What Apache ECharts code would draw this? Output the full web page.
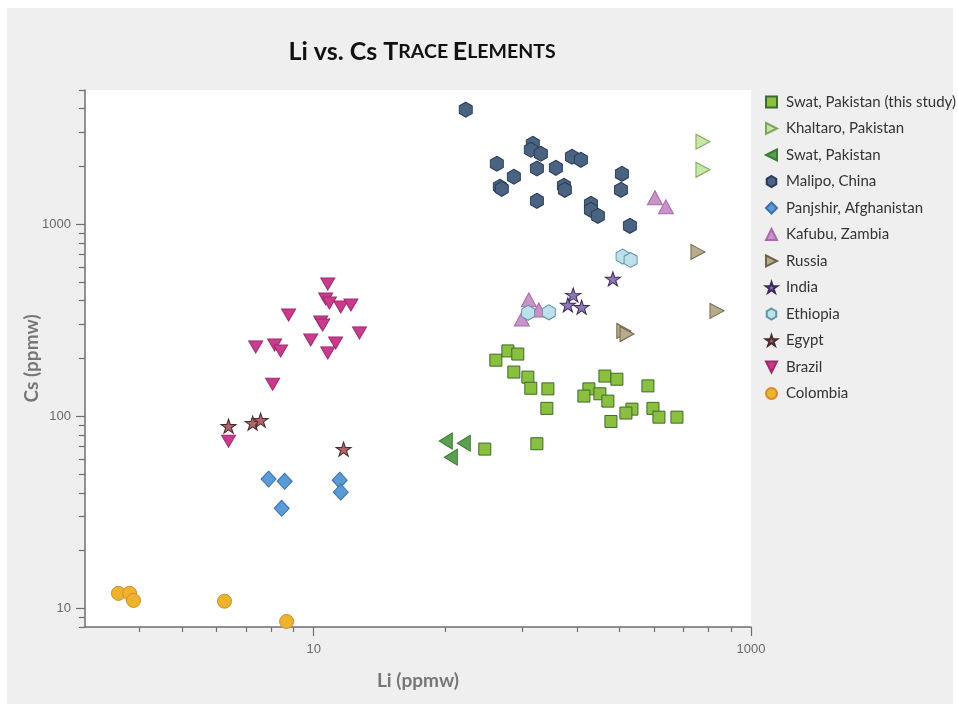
<!DOCTYPE html>
<html>
<head>
<meta charset="utf-8">
<script src="https://cdn.jsdelivr.net/npm/echarts@6/dist/echarts.min.js"></script>
<style>
  html, body { margin: 0; padding: 0; background: #ffffff; }
  #frame { position: absolute; left: 7px; top: 8px; width: 946px; height: 696px; background: #efefef; }
  #chart { position: absolute; left: 0; top: 0; width: 958px; height: 710px; }
</style>
</head>
<body>
<div id="frame"></div>
<div id="chart"></div>
<script>
// Li vs. Cs concentrations (ppmw) in emeralds, grouped by locality
const swatStudyLi = [68.1, 77.3, 85.8, 82.3, 95.4, 98.4, 117.8, 116.5, 104.9, 60.6, 181.4, 172.1, 203.7, 221.6, 214.7, 243.6, 337.8, 285.4, 267.9, 228.8, 356.1, 379.3, 458.5];
const swatStudyCs = [196, 219, 211, 170, 160, 140, 139, 110, 72, 67.5, 139, 127.5, 131, 120, 162, 156, 144, 109, 104, 94, 110, 99, 99];

const khaltaroLi = [603, 603];
const khaltaroCs = [2690, 1920];

const swatLi = [40.2, 48.6, 42.4];
const swatCs = [74.3, 72.5, 61.3];

const malipoLi = [49.6, 100.5, 98.4, 109.4, 151.7, 166.7, 68.8, 104.9, 128.1, 82.3, 256.8, 71.0, 72.5, 139.4, 140.8, 254.1, 104.9, 185.3, 185.3, 199.4, 279.3];
const malipoCs = [3950, 2625, 2443, 2328, 2246, 2166, 2065, 1951, 1968, 1767, 1831, 1567, 1530, 1586, 1511, 1511, 1324, 1277, 1189, 1106, 981];

const panjshirLi = [6.22, 7.37, 7.14, 13.15, 13.3];
const panjshirCs = [47.1, 45.9, 33.2, 46.5, 40.3];

const kafubuLi = [363.7, 408.3, 96.4, 107.1, 89.5];
const kafubuCs = [1373, 1232, 404, 358, 321];

const russiaLi = [572, 699, 262, 271];
const russiaCs = [718, 354, 278, 268];

const indiaLi = [233.6, 153.8, 145.4, 168];
const indiaCs = [519, 428, 380, 370];

const ethiopiaLi = [258.7, 281.5, 95.7, 119];
const ethiopiaCs = [679, 652, 346, 348];

const egyptLi = [4.08, 5.26, 5.72, 13.7];
const egyptCs = [88.9, 92.1, 95.5, 67.5];

const brazilLi = [11.6, 11.35, 11.8, 13.3, 14.8, 7.68, 10.77, 11.0, 16.2, 5.43, 6.63, 7.06, 9.69, 12.6, 11.6, 6.49, 4.08];
const brazilCs = [489, 408, 389, 371, 380, 337, 310, 299, 272, 230, 235, 219, 250, 241, 214, 147, 74.3];

const colombiaLi = [1.28, 1.44, 1.50, 3.91, 7.52];
const colombiaCs = [11.97, 11.97, 11.0, 10.9, 8.55];

// Axis tick values
const xLabelTicks = [10, 1000];
const xMinorTicks = [1.6, 2.5, 3.6, 4.9, 6.4, 8.1, 40, 90, 160, 250, 360, 490, 640, 810];
const yLabelTicks = [10, 100, 1000];
const yMinorTicks = [8, 9, 20, 30, 40, 50, 60, 70, 80, 90, 200, 300, 400, 500, 600, 700, 800, 900, 2000, 3000, 4000, 5000];

// Marker outlines
const HEXAGON = 'path://M0,-1L0.866,-0.5L0.866,0.5L0,1L-0.866,0.5L-0.866,-0.5Z';
const STAR = 'path://M0,-1L0.2245,-0.309L0.951,-0.309L0.3633,0.118L0.588,0.809L0,0.382L-0.588,0.809L-0.3633,0.118L-0.951,-0.309L-0.2245,-0.309Z';
const TRI_RIGHT = 'path://M0,0L1,0.5L0,1Z';
const TRI_LEFT = 'path://M1,0L0,0.5L1,1Z';
const TRI_DOWN = 'path://M0,0L1,0L0.5,1Z';

function pairs(xs, ys) {
  return xs.map((x, i) => [x, ys[i]]);
}

function scatter(name, xs, ys, symbol, size, fill, stroke) {
  return {
    name: name,
    type: 'scatter',
    xAxisIndex: 0,
    yAxisIndex: 0,
    data: pairs(xs, ys),
    symbol: symbol,
    symbolSize: size,
    itemStyle: { color: fill, borderColor: stroke, borderWidth: 1, opacity: 1 },
    emphasis: { disabled: true }
  };
}

const axisGray = '#6f6f6f';
const chart = echarts.init(document.getElementById('chart'), null, { renderer: 'canvas' });

chart.setOption({
  backgroundColor: 'transparent',
  animation: false,
  title: {
    text: '{a|Li vs. Cs }{a|T}{b|RACE }{a|E}{b|LEMENTS}',
    left: 417,
    top: 34,
    textAlign: 'center',
    textStyle: {
      rich: {
        a: { fontFamily: 'Lato', fontWeight: 'bold', fontSize: 25, color: '#111111' },
        b: { fontFamily: 'Lato', fontWeight: 'bold', fontSize: 19.5, color: '#111111' }
      }
    }
  },
  grid: {
    left: 85, top: 90, width: 666, height: 537,
    show: true, backgroundColor: '#ffffff', borderWidth: 0
  },
  legend: {
    orient: 'vertical',
    left: 765,
    top: 94,
    padding: 0,
    itemWidth: 11,
    itemHeight: 11,
    itemGap: 10.5,
    textStyle: { fontFamily: 'Lato', fontSize: 15, color: '#333333', lineHeight: 16, padding: [0, 0, 0, 4] },
    data: ['Swat, Pakistan (this study)', 'Khaltaro, Pakistan', 'Swat, Pakistan', 'Malipo, China',
           'Panjshir, Afghanistan', 'Kafubu, Zambia', 'Russia', 'India', 'Ethiopia', 'Egypt', 'Brazil', 'Colombia']
  },
  xAxis: [
    {
      type: 'log', logBase: 10, min: 0.9, max: 1000, position: 'bottom',
      name: 'Li (ppmw)', nameLocation: 'middle', nameGap: 44,
      nameTextStyle: { fontFamily: 'Lato', fontWeight: 'bold', fontSize: 19, color: '#777777' },
      axisLine: { show: true, lineStyle: { color: axisGray, width: 1.5 } },
      axisTick: { show: true, length: 9, customValues: xLabelTicks, lineStyle: { color: axisGray, width: 1.2 } },
      axisLabel: { show: true, customValues: xLabelTicks, margin: 16, fontFamily: 'Liberation Sans', fontSize: 13, color: '#6a6a6a',
                   formatter: v => String(Math.round(v)) },
      splitLine: { show: false }
    },
    {
      type: 'log', logBase: 10, min: 0.9, max: 1000, position: 'bottom', offset: 0,
      axisLine: { show: false },
      axisTick: { show: true, length: 5, customValues: xMinorTicks, lineStyle: { color: axisGray, width: 1.2 } },
      axisLabel: { show: false },
      splitLine: { show: false }
    }
  ],
  yAxis: [
    {
      type: 'log', logBase: 10, min: 8, max: 5000, position: 'left',
      name: 'Cs (ppmw)', nameLocation: 'middle', nameGap: 44, nameMoveOverlap: false,
      nameTextStyle: { fontFamily: 'Lato', fontWeight: 'bold', fontSize: 19, color: '#777777' },
      axisLine: { show: true, lineStyle: { color: axisGray, width: 1.5 } },
      axisTick: { show: true, length: 9, customValues: yLabelTicks, lineStyle: { color: axisGray, width: 1.2 } },
      axisLabel: { show: true, customValues: yLabelTicks, margin: 14, fontFamily: 'Liberation Sans', fontSize: 13, color: '#6a6a6a',
                   formatter: v => String(Math.round(v)) },
      splitLine: { show: false }
    },
    {
      type: 'log', logBase: 10, min: 8, max: 5000, position: 'left', offset: 0,
      axisLine: { show: false },
      axisTick: { show: true, length: 6, customValues: yMinorTicks, lineStyle: { color: axisGray, width: 1.2 } },
      axisLabel: { show: false },
      splitLine: { show: false }
    }
  ],
  series: [
    scatter('Swat, Pakistan (this study)', swatStudyLi, swatStudyCs, 'rect', 12, '#8bbf40', '#3d6b2a'),
    scatter('Khaltaro, Pakistan', khaltaroLi, khaltaroCs, TRI_RIGHT, [14, 15], '#c9e6a8', '#7aa85a'),
    scatter('Swat, Pakistan', swatLi, swatCs, TRI_LEFT, [13, 16], '#5aa050', '#3a7a33'),
    scatter('Malipo, China', malipoLi, malipoCs, HEXAGON, [13, 15], '#4a6380', '#2a3a5a'),
    scatter('Panjshir, Afghanistan', panjshirLi, panjshirCs, 'diamond', [15, 16], '#5b9bd5', '#3a6fb0'),
    scatter('Kafubu, Zambia', kafubuLi, kafubuCs, 'triangle', [15, 14], '#c793c9', '#a96aa9'),
    scatter('Russia', russiaLi, russiaCs, TRI_RIGHT, [14, 15], '#b8ab8a', '#6d6550'),
    scatter('India', indiaLi, indiaCs, STAR, [15, 14], '#8f78b8', '#3a2a5a'),
    scatter('Ethiopia', ethiopiaLi, ethiopiaCs, HEXAGON, [13, 15], '#bfe0ea', '#5a98a8'),
    scatter('Egypt', egyptLi, egyptCs, STAR, [15, 14], '#b0656e', '#4a2a2a'),
    scatter('Brazil', brazilLi, brazilCs, TRI_DOWN, [14, 12], '#c83c8b', '#a02a70'),
    scatter('Colombia', colombiaLi, colombiaCs, 'circle', 14, '#ecb42c', '#d9892a')
  ]
});
</script>
</body>
</html>
